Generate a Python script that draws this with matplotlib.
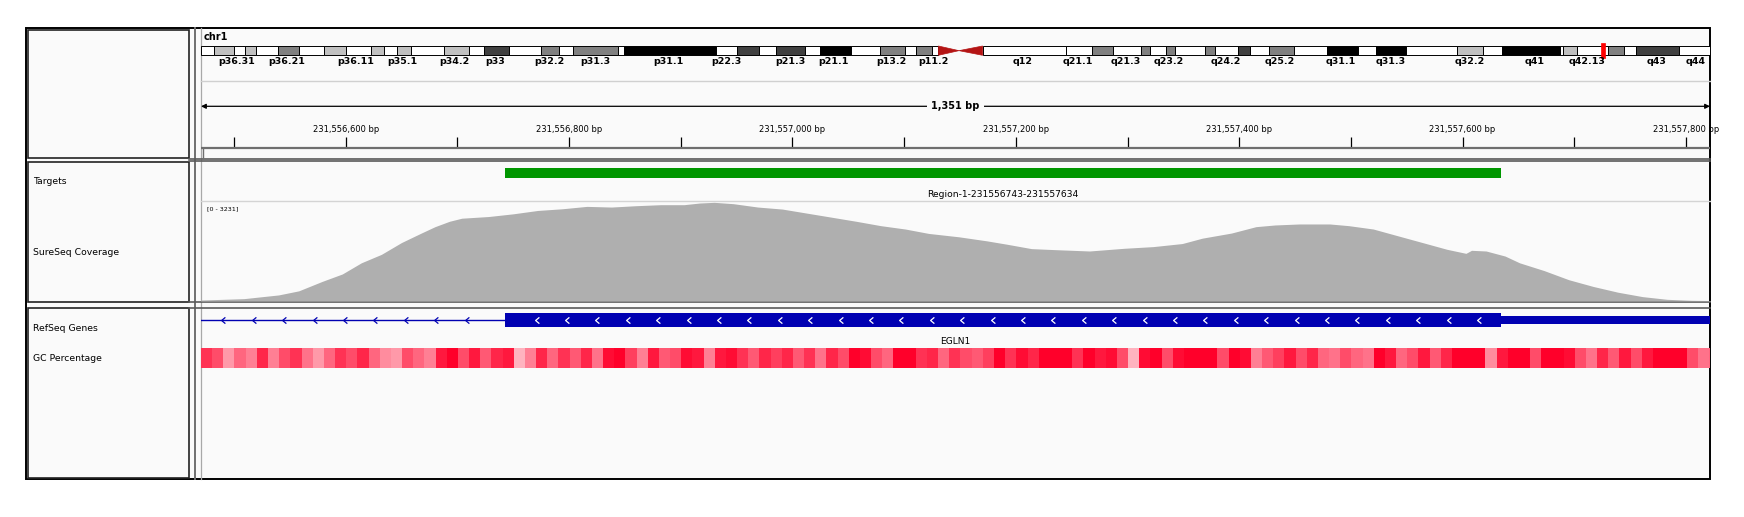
import numpy as np
import matplotlib.pyplot as plt
from matplotlib.patches import Rectangle, Polygon
from matplotlib.colors import LinearSegmentedColormap
from matplotlib.path import Path

# ---------------- data ----------------
chr_name = 'chr1'
chr_len = 249.25  # Mb

band_edges = [0, 2.2, 5.4, 7.2, 9.1, 12.7, 16.2, 20.3, 23.9, 28.0, 30.3, 32.3, 34.7,
              40.1, 44.2, 46.8, 50.9, 56.2, 59.2, 61.4, 68.9, 69.8, 85.1, 88.5, 92.1,
              94.9, 99.8, 102.3, 107.4, 112.1, 116.3, 118.1, 120.7, 121.8, 125.2, 129.1,
              142.8, 147.2, 150.6, 155.3, 156.8, 159.4, 160.8, 165.8, 167.5, 171.3, 173.2,
              176.4, 180.6, 186.0, 191.1, 194.1, 199.1, 207.5, 211.8, 214.9, 224.5, 224.9,
              227.3, 232.4, 235.1, 237.0, 244.1, 249.25]
band_stains = ['gneg', 'gpos25', 'gneg', 'gpos25', 'gneg', 'gpos50', 'gneg', 'gpos25',
               'gneg', 'gpos25', 'gneg', 'gpos25', 'gneg', 'gpos25', 'gneg', 'gpos75',
               'gneg', 'gpos50', 'gneg', 'gpos50', 'gneg', 'gpos100', 'gneg', 'gpos75',
               'gneg', 'gpos75', 'gneg', 'gpos100', 'gneg', 'gpos50', 'gneg', 'gpos50',
               'gneg', 'acen_p', 'acen_q', 'gneg', 'gneg', 'gpos50', 'gneg', 'gpos50',
               'gneg', 'gpos50', 'gneg', 'gpos50', 'gneg', 'gpos75', 'gneg', 'gpos50',
               'gneg', 'gpos100', 'gneg', 'gpos100', 'gneg', 'gpos25', 'gneg', 'gpos100',
               'gneg', 'gpos25', 'gneg', 'gpos50', 'gneg', 'gpos75', 'gneg']
band_names = ['p36.31', 'p36.21', 'p36.11', 'p35.1', 'p34.2', 'p33', 'p32.2', 'p31.3',
              'p31.1', 'p22.3', 'p21.3', 'p21.1', 'p13.2', 'p11.2', 'q12', 'q21.1',
              'q21.3', 'q23.2', 'q24.2', 'q25.2', 'q31.1', 'q31.3', 'q32.2', 'q41',
              'q42.13', 'q43', 'q44']
band_name_mb = [5.9, 14.1, 25.5, 33.3, 41.8, 48.6, 57.6, 65.2, 77.2, 86.7, 97.3, 104.5,
                114.0, 121.0, 135.7, 144.9, 152.8, 159.9, 169.2, 178.2, 188.3, 196.5,
                209.6, 220.3, 229.0, 240.4, 246.8]

view_start = 231556470.5
view_end = 231557821.5

target_start = 231556743
target_end = 231557634

# coverage: position (offset from 231556000) and depth
cov_offset = 231556000
cov_pos = [470, 472, 509, 540, 558, 579, 597, 614, 632, 650, 667, 680, 693, 704, 728,
           750, 772, 794, 816, 838, 860, 882, 903, 917, 930, 947, 969, 991, 1013, 1035,
           1057, 1079, 1101, 1122, 1149, 1174, 1192, 1214, 1235, 1266, 1297, 1323, 1349,
           1367, 1393, 1415, 1432, 1454, 1481, 1498, 1520, 1542, 1564, 1586, 1603, 1608,
           1621, 1638, 1651, 1673, 1695, 1717, 1739, 1761, 1783, 1805, 1822]
cov_depth = [30, 33, 77, 198, 331, 640, 882, 1246, 1522, 1908, 2205, 2426, 2602, 2702,
             2757, 2845, 2955, 3010, 3088, 3066, 3110, 3143, 3143, 3198, 3220, 3176, 3066,
             3000, 2867, 2735, 2602, 2459, 2349, 2205, 2095, 1963, 1853, 1709, 1676, 1632,
             1720, 1775, 1875, 2051, 2217, 2426, 2481, 2514, 2514, 2459, 2349, 2128, 1908,
             1687, 1555, 1654, 1632, 1467, 1246, 992, 695, 474, 287, 143, 55, 22, 15]
cov_max = 3231

gene_name = 'EGLN1'
gene_start = 231499497
gene_end = 231560790
cds_start = 231556743
cds_end = 231557634

# GC percentage in 10 bp windows from view_start (0 low .. 1 high)
gc_window = 10
gc_level = [0.8, 0.7, 0.4, 0.6, 0.5, 0.85, 0.5, 0.7, 0.8, 0.55,
            0.4, 0.6, 0.8, 0.7, 0.85, 0.6, 0.45, 0.4, 0.7, 0.6,
            0.5, 0.9, 1.0, 0.7, 0.9, 0.65, 0.85, 0.9, 0.3, 0.5,
            0.85, 0.6, 0.8, 0.65, 0.85, 0.55, 0.95, 1.0, 0.75, 0.5,
            0.9, 0.65, 0.7, 0.95, 0.9, 0.5, 0.9, 0.95, 0.8, 0.65,
            0.85, 0.75, 0.85, 0.65, 0.8, 0.55, 0.85, 0.7, 1.0, 0.95,
            0.7, 0.6, 1.0, 1.0, 0.8, 0.85, 0.6, 0.8,
            0.7, 0.65, 0.75, 1.0, 0.8, 0.95, 0.85, 1.0, 1.0, 1.0,
            0.8, 1.0, 0.9, 0.95, 0.7, 0.3, 0.95, 1.0, 0.7, 0.95,
            1.0, 1.0, 1.0, 0.7, 1.0, 0.95, 0.5, 0.65, 0.75, 0.9,
            0.7, 0.85, 0.6, 0.55, 0.7, 0.6, 0.55, 1.0, 0.9, 0.6,
            0.7, 0.9, 0.65, 0.85, 1.0, 1.0, 1.0, 0.45, 0.9, 1.0,
            1.0, 0.7, 1.0, 1.0, 0.95, 0.7, 0.55, 0.85, 0.65, 0.9,
            0.7, 0.9, 1.0, 1.0, 1.0, 0.7, 0.55, 0.6]

track_names = ['Targets', 'SureSeq Coverage', 'RefSeq Genes', 'GC Percentage']

# ---------------- drawing ----------------
W, H = 1744, 517
L, R = 201, 1710
stain_col = {'gneg': 'white', 'gpos25': '#C0C0C0', 'gpos50': '#808080',
             'gpos75': '#404040', 'gpos100': 'black'}
blue = '#0000B2'

fig = plt.figure(figsize=(W / 100, H / 100), dpi=100)
fig.patch.set_facecolor('white')

base = fig.add_axes([0, 0, 1, 1])
base.set_xlim(0, W)
base.set_ylim(H, 0)
base.axis('off')


def track(y0, y1, xlim=(view_start, view_end)):
    ax = fig.add_axes([L / W, 1 - y1 / H, (R - L) / W, (y1 - y0) / H])
    ax.set_facecolor('none')
    ax.set_xlim(*xlim)
    ax.set_ylim(y1, y0)
    ax.axis('off')
    return ax


# frames
base.add_patch(Rectangle((26, 28), R - 26, 451, facecolor='#FAFAFA',
                         edgecolor='black', lw=1.4))
for y0, y1 in [(29.5, 158.3), (161.8, 302), (308.3, 478)]:
    base.add_patch(Rectangle((27.5, y0), 161.5, y1 - y0, facecolor='none',
                             edgecolor='#222222', lw=1.2))
base.plot([194.5, 194.5], [28, 479], color='#707070', lw=1.4)
base.plot([200.5, 200.5], [28, 479], color='#A8A8A8', lw=0.9)
for yy in [159.0, 161.2, 302.0, 307.5]:
    base.plot([189, R], [yy, yy], color='#5A5A5A', lw=1.2)
base.plot([L, R], [81, 81], color='#D0D0D0', lw=1.0)
base.plot([L, R], [201.3, 201.3], color='#D4D4D4', lw=1.0)

# header
base.text(204, 37.5, chr_name, fontsize=7, fontweight='bold', va='center')
ideo = track(40, 70, xlim=(0, chr_len))
top, bot = 46, 55.3
for a, b, s in zip(band_edges[:-1], band_edges[1:], band_stains):
    if s == 'acen_p':
        ideo.add_patch(Polygon([(a, top), (b, (top + bot) / 2), (a, bot)],
                               closed=True, facecolor='#B41414', edgecolor='#B41414', lw=0.5))
    elif s == 'acen_q':
        ideo.add_patch(Polygon([(b, top), (a, (top + bot) / 2), (b, bot)],
                               closed=True, facecolor='#B41414', edgecolor='#B41414', lw=0.5))
    else:
        ideo.add_patch(Rectangle((a, top), b - a, bot - top, facecolor=stain_col[s],
                                 edgecolor='black', lw=0.7))
ideo.add_patch(Rectangle((231.55 - 0.37, 42.7), 0.74, 15.6, facecolor='#FF0000',
                         edgecolor='#FF0000', lw=0.5))
for nm, mb in zip(band_names, band_name_mb):
    ideo.text(mb, 61.7, nm, fontsize=6.8, fontweight='bold', ha='center', va='center')

ruler = track(95, 158)
ruler.annotate('', xy=(view_start, 106.3), xytext=(view_end, 106.3),
               arrowprops=dict(arrowstyle='<|-|>', color='black', lw=0.9,
                               mutation_scale=7, shrinkA=0, shrinkB=0))
ruler.text((view_start + view_end) / 2, 106.3, f'{int(round(view_end - view_start)):,} bp',
           fontsize=7, fontweight='bold', ha='center', va='center',
           bbox=dict(facecolor='#FAFAFA', edgecolor='none', pad=3))
ticks = np.arange(np.ceil(view_start / 100) * 100, view_end, 100)
ruler.vlines(ticks, 137, 146.7, color='black', lw=0.9)
for t in ticks:
    if int(t) % 200 == 0:
        ruler.text(t, 129, f'{int(t):,} bp', fontsize=6, ha='center', va='center')
ruler.plot([view_start, view_end], [147.7, 147.7], color='#6E6E6E', lw=1.6)
base.plot([202.5, 202.5], [147.7, 158], color='#6E6E6E', lw=1.0)

# targets
tg = track(162, 200)
tg.add_patch(Rectangle((target_start, 167.7), target_end - target_start, 10,
                       facecolor='#009600', edgecolor='none'))
tg.text((target_start + target_end) / 2, 194.3,
        f'Region-1-{target_start}-{target_end}', fontsize=6.6, ha='center', va='center')

# coverage
cov = fig.add_axes([L / W, 1 - 301 / H, (R - L) / W, 99 / H])
cov.set_facecolor('none')
cov.fill_between([cov_offset + p for p in cov_pos], cov_depth, 0,
                 color='#AFAFAF', lw=0)
cov.set_xlim(view_start, view_end)
cov.set_ylim(0, cov_max)
cov.axis('off')
base.text(206.5, 209.3, f'[0 - {cov_max}]', fontsize=4.6, va='center')

# genes
gn = track(308, 345)
gn.plot([gene_start, cds_start], [319.7, 319.7], color=blue, lw=1.0)
gn.add_patch(Rectangle((cds_start, 312.7), cds_end - cds_start, 14,
                       facecolor=blue, edgecolor='none'))
gn.add_patch(Rectangle((cds_end, 315.7), gene_end - cds_end, 8.3,
                       facecolor=blue, edgecolor='none'))
chev = Path([(0.6, 1.0), (-0.6, 0.0), (0.6, -1.0)],
            [Path.MOVETO, Path.LINETO, Path.LINETO])
step = 30.4 * (view_end - view_start) / (R - L)
intr = np.arange(view_start + 20, cds_start - 20, step)
gn.plot(intr, np.full(len(intr), 319.7), ls='none', marker=chev, ms=4.5,
        mfc='none', mec=blue, mew=0.9)
exo = np.arange(cds_start + 28, cds_end - 10, step)
gn.plot(exo, np.full(len(exo), 319.7), ls='none', marker=chev, ms=4.5,
        mfc='none', mec='white', mew=0.9)
gn.text((view_start + view_end) / 2, 342, gene_name, fontsize=6.6,
        ha='center', va='center')

# GC percentage
gc = track(345, 372)
gc_cmap = LinearSegmentedColormap.from_list('gc', ['#FFFFFF', '#FF002A'])
gc.imshow(np.array([gc_level]), cmap=gc_cmap, vmin=0, vmax=1, aspect='auto',
          interpolation='nearest',
          extent=(view_start, view_start + gc_window * len(gc_level), 368, 348))
gc.set_xlim(view_start, view_end)
gc.set_ylim(372, 345)

# track names
for nm, yy in zip(track_names, [182, 252.7, 328.7, 358.7]):
    base.text(32.7, yy, nm, fontsize=6.7, va='center')

fig.savefig('out.png', dpi=100)
